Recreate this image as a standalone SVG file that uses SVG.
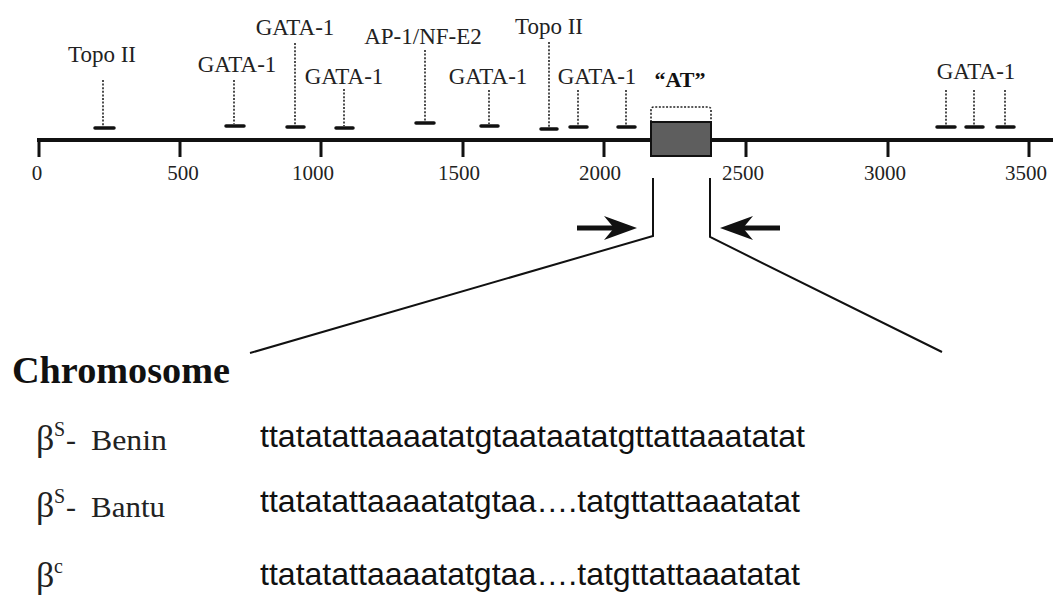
<svg xmlns="http://www.w3.org/2000/svg" width="1053" height="601" viewBox="0 0 1053 601">
<style>
.lbl{font-family:"Liberation Serif","Times New Roman",serif;font-size:23px;fill:#222;text-anchor:middle}
.num{font-family:"Liberation Serif","Times New Roman",serif;font-size:21px;fill:#222;text-anchor:middle}
.dot{stroke:#222;stroke-width:1.6;stroke-dasharray:2,1.6;fill:none}
.bar{stroke:#111;stroke-width:3.5;stroke-linecap:round}
.tick{stroke:#111;stroke-width:3}
.ln{stroke:#111;stroke-width:2;fill:none}
.seq{font-family:"Liberation Sans",Arial,sans-serif;font-size:32px;fill:#111}
.beta{font-family:"Liberation Serif","Times New Roman",serif;font-size:30px;fill:#222}
.bg{font-family:"Liberation Serif","Times New Roman",serif;font-size:36px;fill:#222}
.sup{font-family:"Liberation Serif","Times New Roman",serif;font-size:20px;fill:#222}
</style>
<rect width="1053" height="601" fill="#fff"/>
<g id="axis">
<line x1="37" y1="140" x2="1053" y2="140" stroke="#111" stroke-width="4"/>
<line class="tick" x1="39" y1="140" x2="39" y2="157"/>
<line class="tick" x1="180" y1="140" x2="180" y2="157"/>
<line class="tick" x1="321" y1="140" x2="321" y2="157"/>
<line class="tick" x1="463" y1="140" x2="463" y2="157"/>
<line class="tick" x1="604" y1="140" x2="604" y2="157"/>
<line class="tick" x1="746" y1="140" x2="746" y2="157"/>
<line class="tick" x1="888" y1="140" x2="888" y2="157"/>
<line class="tick" x1="1029" y1="140" x2="1029" y2="157"/>
<text class="num" x="37" y="180">0</text>
<text class="num" x="183" y="180">500</text>
<text class="num" x="313" y="180">1000</text>
<text class="num" x="459" y="180">1500</text>
<text class="num" x="600" y="180">2000</text>
<text class="num" x="743" y="180">2500</text>
<text class="num" x="885" y="180">3000</text>
<text class="num" x="1026" y="180">3500</text>
</g>
<g id="site-topo1">
<text class="lbl" x="102" y="62">Topo II</text>
<line class="dot" x1="103" y1="80" x2="103" y2="126"/>
<line class="bar" x1="95" y1="128" x2="114" y2="128"/>
</g>
<g id="site-gata1">
<text class="lbl" x="237" y="72">GATA-1</text>
<line class="dot" x1="234" y1="80" x2="234" y2="124"/>
<line class="bar" x1="226" y1="126" x2="244" y2="126"/>
</g>
<g id="site-gata2">
<text class="lbl" x="295" y="35">GATA-1</text>
<line class="dot" x1="295" y1="43" x2="295" y2="125"/>
<line class="bar" x1="287" y1="127" x2="304" y2="127"/>
</g>
<g id="site-gata3">
<text class="lbl" x="344" y="84">GATA-1</text>
<line class="dot" x1="344" y1="89" x2="344" y2="126"/>
<line class="bar" x1="336" y1="128" x2="353" y2="128"/>
</g>
<g id="site-ap1">
<text class="lbl" x="423" y="44">AP-1/NF-E2</text>
<line class="dot" x1="425" y1="50" x2="425" y2="121"/>
<line class="bar" x1="416" y1="123" x2="434" y2="123"/>
</g>
<g id="site-gata4">
<text class="lbl" x="488" y="84">GATA-1</text>
<line class="dot" x1="489" y1="90" x2="489" y2="124"/>
<line class="bar" x1="481" y1="126" x2="498" y2="126"/>
</g>
<g id="site-topo2">
<text class="lbl" x="549" y="34">Topo II</text>
<line class="dot" x1="549" y1="42" x2="549" y2="127"/>
<line class="bar" x1="541" y1="129" x2="557" y2="129"/>
</g>
<g id="site-gata5">
<text class="lbl" x="597" y="84">GATA-1</text>
<line class="dot" x1="578" y1="90" x2="578" y2="125"/>
<line class="bar" x1="570" y1="127" x2="587" y2="127"/>
<line class="dot" x1="626" y1="90" x2="626" y2="125"/>
<line class="bar" x1="618" y1="127" x2="635" y2="127"/>
</g>
<g id="site-at">
<text x="680" y="87" font-family="Liberation Serif, Times New Roman, serif" font-size="22" font-weight="bold" fill="#111" text-anchor="middle">“AT”</text>
<path class="dot" d="M651,122 V110 Q651,107 654,107 H708 Q711,107 711,110 V122"/>
<rect x="651" y="122" width="60" height="34" fill="#5e5e5e" stroke="#111" stroke-width="2"/>
</g>
<g id="site-gata-right">
<text class="lbl" x="976" y="79">GATA-1</text>
<line class="dot" x1="946" y1="90" x2="946" y2="125"/>
<line class="bar" x1="937" y1="127" x2="955" y2="127"/>
<line class="dot" x1="974" y1="90" x2="974" y2="125"/>
<line class="bar" x1="966" y1="127" x2="983" y2="127"/>
<line class="dot" x1="1005" y1="90" x2="1005" y2="125"/>
<line class="bar" x1="997" y1="127" x2="1014" y2="127"/>
</g>
<g id="connectors">
<polyline class="ln" points="653,178 653,236 250,353"/>
<polyline class="ln" points="710,178 710,237 942,352"/>
<line x1="577" y1="228" x2="616" y2="228" stroke="#111" stroke-width="5"/>
<path d="M637,228 L604,216 L614,228 L604,240 Z" fill="#111"/>
<line x1="780" y1="228" x2="741" y2="228" stroke="#111" stroke-width="5"/>
<path d="M720,228 L753,216 L743,228 L753,240 Z" fill="#111"/>
</g>
<g id="chromosome">
<text x="12" y="383" font-family="Liberation Serif, Times New Roman, serif" font-size="37" font-weight="bold" fill="#111" textLength="218" lengthAdjust="spacingAndGlyphs">Chromosome</text>
</g>
<g id="row-benin">
<text class="bg" x="36" y="450">β</text>
<text class="sup" x="54" y="436">S</text>
<text class="beta" x="66" y="450">-</text>
<text class="beta" x="91" y="450" textLength="76" lengthAdjust="spacingAndGlyphs">Benin</text>
<text class="seq" x="260" y="447" textLength="545" lengthAdjust="spacingAndGlyphs">ttatatattaaaatatgtaataatatgttattaaatatat</text>
</g>
<g id="row-bantu">
<text class="bg" x="36" y="517">β</text>
<text class="sup" x="54" y="503">S</text>
<text class="beta" x="66" y="517">-</text>
<text class="beta" x="91" y="517" textLength="74" lengthAdjust="spacingAndGlyphs">Bantu</text>
<text class="seq" x="260" y="512" textLength="540" lengthAdjust="spacingAndGlyphs">ttatatattaaaatatgtaa….tatgttattaaatatat</text>
</g>
<g id="row-c">
<text class="bg" x="36" y="587">β</text>
<text class="sup" x="54" y="573">c</text>
<text class="seq" x="260" y="585" textLength="540" lengthAdjust="spacingAndGlyphs">ttatatattaaaatatgtaa….tatgttattaaatatat</text>
</g>
</svg>
